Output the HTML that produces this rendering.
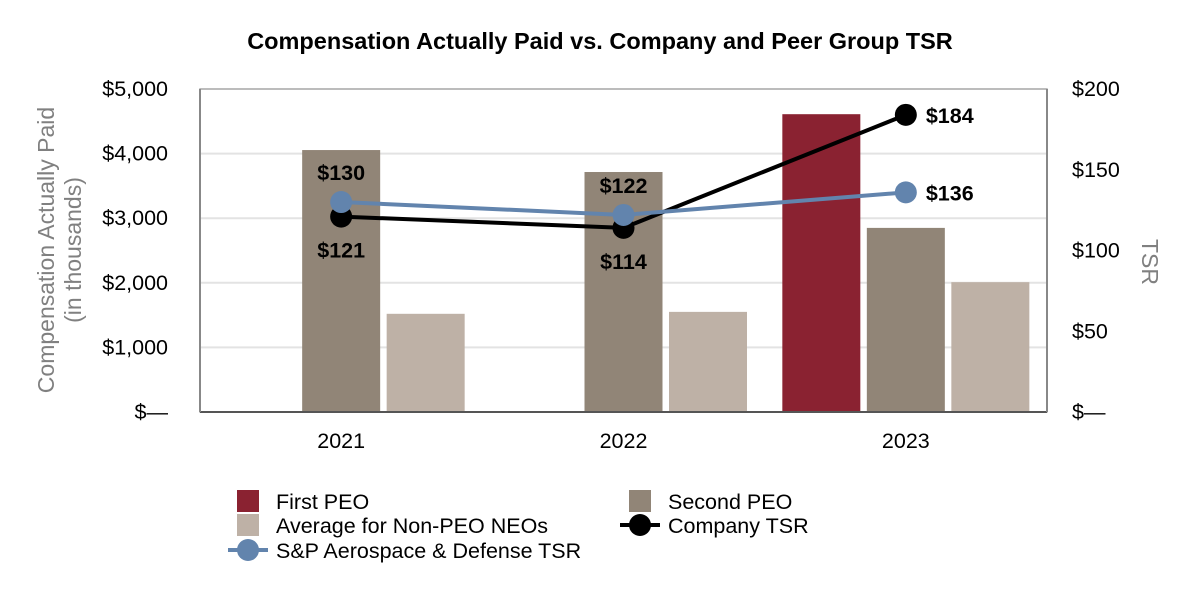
<!DOCTYPE html>
<html><head><meta charset="utf-8"><style>
html,body{margin:0;padding:0;background:#fff;}
svg text{font-family:"Liberation Sans",Arial,sans-serif;}
</style></head><body>
<svg id="chart" width="1200" height="600" viewBox="0 0 1200 600">
<text x="600" y="49" text-anchor="middle" font-size="23.5" font-weight="bold" fill="#000">Compensation Actually Paid vs. Company and Peer Group TSR</text>
<g id="grid"></g>
<g id="bars"></g>
<g id="lines"></g>
<g id="axes"></g>
<text transform="translate(62,250) rotate(-90)" text-anchor="middle" font-size="23" fill="#808080"><tspan x="0" dy="-8">Compensation Actually Paid</tspan><tspan x="0" dy="27">(in thousands)</tspan></text>
<text transform="translate(1142,262) rotate(90)" text-anchor="middle" font-size="23" fill="#808080">TSR</text>
<g font-size="21.5">
<rect x="237" y="490" width="22" height="22" fill="#8a2231"/>
<text x="276" y="509">First PEO</text>
<rect x="237" y="514" width="22" height="22" fill="#beb1a6"/>
<text x="276" y="533">Average for Non-PEO NEOs</text>
<line x1="228" y1="550" x2="268" y2="550" stroke="#6284ad" stroke-width="4"/>
<circle cx="248" cy="550" r="11" fill="#6284ad"/>
<text x="276" y="558">S&amp;P Aerospace &amp; Defense TSR</text>
<rect x="629" y="490" width="22" height="22" fill="#918577"/>
<text x="668" y="509">Second PEO</text>
<line x1="620" y1="525" x2="660" y2="525" stroke="#000" stroke-width="4"/>
<circle cx="640" cy="525" r="11" fill="#000"/>
<text x="668" y="533">Company TSR</text>
</g>
</svg>
<script>
const categories = ["2021","2022","2023"];
const firstPeo = [null, null, 4610];
const secondPeo = [4055, 3715, 2850];
const avgNeo = [1520, 1550, 2010];
const companyTsr = [121, 114, 184];
const spTsr = [130, 122, 136];
const leftTicks = ["$—","$1,000","$2,000","$3,000","$4,000","$5,000"];
const rightTicks = ["$—","$50","$100","$150","$200"];

const NS="http://www.w3.org/2000/svg";
const L=200,R=1047,T=89,B=412;
const yL=v=>B-(v/5000)*(B-T);
const yR=v=>B-(v/200)*(B-T);
const cw=(R-L)/categories.length;
const xc=i=>L+cw*(i+0.5);
function mk(tag,attrs,parent){const e=document.createElementNS(NS,tag);for(const k in attrs)e.setAttribute(k,attrs[k]);document.getElementById(parent).appendChild(e);return e;}

leftTicks.forEach((t,i)=>{const v=i*1000,y=yL(v);
 if(i>0){const g=mk('line',{x1:L,x2:R,y1:y,y2:y,stroke:'#e3e3e3','stroke-width':2},'grid');
 
 }
 const tx=mk('text',{x:168,y:y+7,'text-anchor':'end','font-size':21.5},'axes');tx.textContent=t;
 
 
});
rightTicks.forEach((t,i)=>{const y=yR(i*50);
 const tx=mk('text',{x:1072,y:y+7,'font-size':21.5},'axes');tx.textContent=t;
 
 
});
const fr=mk('rect',{x:L,y:T,width:R-L,height:B-T,fill:'none',stroke:'#b0b0b0','stroke-width':1.5},'axes');


const base=mk('line',{x1:L,x2:R,y1:B,y2:B,stroke:'#555','stroke-width':2},'axes');


const lax=mk('line',{x1:L,x2:L,y1:T,y2:B,stroke:'#888','stroke-width':2},'axes');


const rax=mk('line',{x1:R,x2:R,y1:T,y2:B,stroke:'#888','stroke-width':2},'axes');



const series=[[firstPeo,'#8a2231','first-peo'],[secondPeo,'#918577','second-peo'],[avgNeo,'#beb1a6','avg-neo']];
const slot=84.5,bw=78;
categories.forEach((c,i)=>{
 series.forEach((s,j)=>{const v=s[0][i];if(v==null)return;
  const x=xc(i)+(j-1)*slot-bw/2;
  const r=mk('rect',{x:x,y:yL(v),width:bw,height:B-yL(v),fill:s[1]},'bars');
  
  
 });
 const tx=mk('text',{x:xc(i),y:448,'text-anchor':'middle','font-size':21.5},'axes');tx.textContent=c;
 
 
});

function line(vals,color,name,labelPos){
 const pts=vals.map((v,i)=>xc(i)+','+yR(v)).join(' ');
 const pl=mk('polyline',{points:pts,fill:'none',stroke:color,'stroke-width':4},'lines');
 
 
 vals.forEach((v,i)=>{
  const c=mk('circle',{cx:xc(i),cy:yR(v),r:11,fill:color},'lines');
  
  
  const p=labelPos[i];let x=xc(i),y=yR(v),a='middle';
  if(p==='up'){y-=22;}else if(p==='down'){y+=41;}else{x+=20;y+=8;a='start';}
  const t=mk('text',{x:x,y:y,'text-anchor':a,'font-size':21.5,'font-weight':'bold'},'lines');t.textContent='$'+v;
  
  
 });
}
line(companyTsr,'#000','company-tsr',['down','down','right']);
line(spTsr,'#6284ad','sp-tsr',['up','up','right']);
</script>
</body></html>
